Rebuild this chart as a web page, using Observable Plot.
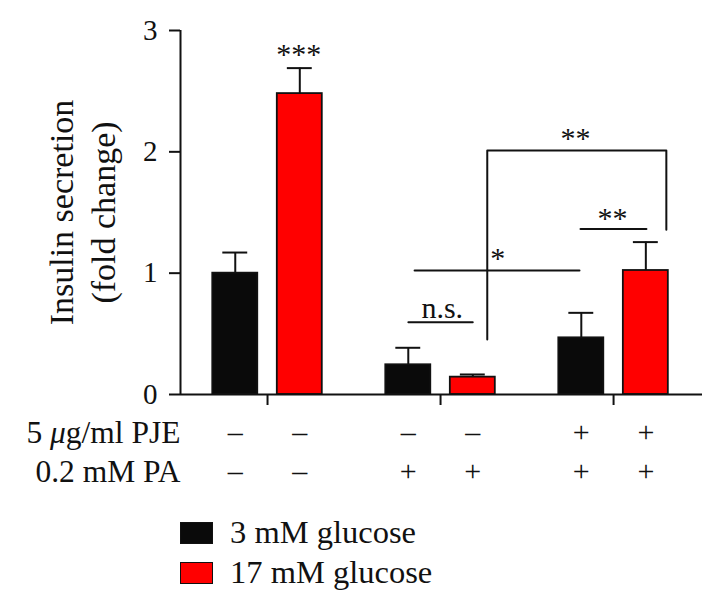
<!DOCTYPE html>
<html>
<head>
<meta charset="utf-8">
<script src="https://cdn.jsdelivr.net/npm/d3@7"></script>
<script src="https://cdn.jsdelivr.net/npm/@observablehq/plot@0.6"></script>
<style>
  body { margin: 0; background: #fff; font-family: "Liberation Serif", "Times New Roman", serif; }
  svg, svg text { font-family: "Liberation Serif", "Times New Roman", serif !important; }
  #legend { position: relative; width: 723px; height: 111px; }
  .item { position: absolute; left: 180px; display: flex; align-items: center; font-size: 32.5px; color: #111; }
  .sw { width: 31px; height: 20px; border: 1.5px solid #111; margin-right: 17px; }
</style>
</head>
<body>
<div id="chart"></div>
<div id="legend"></div>
<script>
// ---- data ----
const groups = ["G1", "G2", "G3"];
const series = ["3 mM glucose", "17 mM glucose"];
const colors = ["#0a0a0a", "#ff0000"];
const means = [[1.00, 2.48], [0.245, 0.143], [0.467, 1.022]];
const errs  = [[0.17, 0.21], [0.14, 0.022], [0.206, 0.234]];
const pjeSigns = [["–", "–"], ["–", "–"], ["+", "+"]];
const paSigns  = [["–", "–"], ["+", "+"], ["+", "+"]];
const rowLabels = ["5 μg/ml PJE", "0.2 mM PA"];
const yTicks = [0, 1, 2, 3];
// significance annotations (x in group units, y in data units)
const sigLines = [
  {id: "ns",   pts: [[0.814, 0.596], [1.186, 0.596]]},
  {id: "star", pts: [[0.85, 1.022], [1.803, 1.022]]},
  {id: "vert", pts: [[1.27, 0.453], [1.27, 2.011], [2.305, 2.011], [2.305, 1.358]]},
  {id: "ss2",  pts: [[1.809, 1.363], [2.19, 1.363]]}
];
const sigTexts = [
  {x: 0.18, y: 2.80, t: "***"},
  {x: 1.01, y: 0.71, t: "n.s."},
  {x: 1.33, y: 1.12, t: "*"},
  {x: 1.78, y: 2.11, t: "**"},
  {x: 1.994, y: 1.45, t: "**"}
];

// ---- build table ----
const step = 0.373, half = 0.13, cap = 0.072;
const rows = [];
groups.forEach((g, gi) => series.forEach((s, si) => {
  const cx = gi + (si - 0.5) * step;
  rows.push({g, s, si, cx, x1: cx - half, x2: cx + half,
             v: means[gi][si], top: means[gi][si] + errs[gi][si],
             pje: pjeSigns[gi][si], pa: paSigns[gi][si]});
}));
const xDom = [-0.503, 2.514];
const segs = sigLines.flatMap(l => l.pts.map(p => ({id: l.id, x: p[0], y: p[1]})));
const FF = "'Liberation Serif', 'Times New Roman', serif";

const plot = Plot.plot({
  width: 723, height: 500,
  marginLeft: 180, marginRight: 21, marginTop: 30, marginBottom: 106,
  style: {fontFamily: FF, color: "#111", background: "#fff"},
  x: {domain: xDom, axis: null},
  y: {domain: [0, 3], axis: null},
  marks: [
    Plot.axisY({ticks: yTicks, tickSize: 11, tickPadding: 12, fontSize: 29, label: null, strokeWidth: 2, tickFormat: d3.format("d")}),
    Plot.axisX({ticks: [0, 1, 2], tickSize: 11, tickFormat: () => "", label: null, strokeWidth: 2}),
    // error bars
    Plot.ruleX(rows, {x: "cx", y1: "v", y2: "top", stroke: "#111", strokeWidth: 2}),
    Plot.ruleY(rows, {y: "top", x1: d => d.cx - cap, x2: d => d.cx + cap, stroke: "#111", strokeWidth: 2}),
    // bars
    Plot.rectY(rows, {x1: "x1", x2: "x2", y: "v", fill: d => colors[d.si], stroke: "#111", strokeWidth: 1.8}),
    // axis lines
    Plot.ruleY([0], {stroke: "#111", strokeWidth: 2}),
    Plot.ruleX([xDom[0]], {y1: 0, y2: 3, stroke: "#111", strokeWidth: 2}),
    // significance
    Plot.line(segs, {x: "x", y: "y", z: "id", stroke: "#111", strokeWidth: 2}),
    Plot.text(sigTexts, {x: "x", y: "y", text: "t", fontSize: 30, fill: "#111"}),
    // treatment rows
    Plot.text(rows, {x: "cx", y: 0, dy: 38, text: "pje", fontSize: 30, fill: "#111"}),
    Plot.text(rows, {x: "cx", y: 0, dy: 77, text: "pa", fontSize: 30, fill: "#111"}),
    Plot.text([rowLabels[0]], {x: xDom[0], y: 0, dy: 38, text: d => d, textAnchor: "end", fontSize: 31.5, fill: "#111"}),
    Plot.text([rowLabels[1]], {x: xDom[0], y: 0, dy: 77, text: d => d, textAnchor: "end", fontSize: 31.5, fill: "#111"}),
    // y label
    Plot.text(["Insulin secretion\n(fold change)"], {frameAnchor: "left", textAnchor: "middle", rotate: -90, dx: -100, fontSize: 34, lineHeight: 1.25, fill: "#111"})
  ]
});
document.getElementById("chart").appendChild(plot);

// italic mu in the PJE label
plot.querySelectorAll("text").forEach(t => {
  if (t.textContent === rowLabels[0] && !t.querySelector("tspan")) {
    const parts = rowLabels[0].split("μ");
    t.textContent = "";
    const ns = "http://www.w3.org/2000/svg";
    const a = document.createElementNS(ns, "tspan"); a.textContent = parts[0];
    const m = document.createElementNS(ns, "tspan"); m.textContent = "μ"; m.setAttribute("font-style", "italic");
    const b = document.createElementNS(ns, "tspan"); b.textContent = parts[1];
    t.append(a, m, b);
  }
});

const leg = document.getElementById("legend");
series.forEach((s, i) => {
  const it = document.createElement("div");
  it.className = "item";
  it.style.top = (i === 0 ? 14 : 54) + "px";
  it.innerHTML = `<span class="sw" style="background:${colors[i]}"></span><span>${s}</span>`;
  leg.appendChild(it);
});
</script>
</body>
</html>
